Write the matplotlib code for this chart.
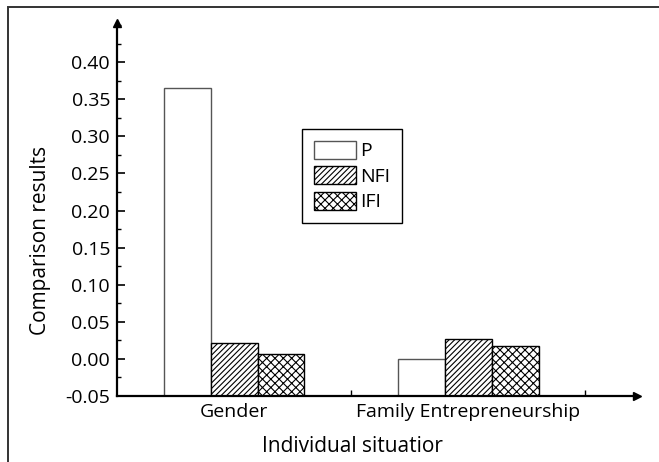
import numpy as np
import matplotlib.pyplot as plt
from matplotlib.patches import Rectangle
from matplotlib.ticker import MultipleLocator

plt.rcParams['font.family'] = ['Open Sans', 'DejaVu Sans']
plt.rcParams['hatch.linewidth'] = 0.8

# --- data ---
categories = ['Gender', 'Family Entrepreneurship']
cat_pos = [1, 3]
series = ['P', 'NFI', 'IFI']
values_p = [0.365, 0.000]
values_nfi = [0.022, 0.027]
values_ifi = [0.007, 0.018]
tick_pos = [1, 2, 3, 4]
tick_labels = ['Gender', '', 'Family Entrepreneurship', '']

W, H = 659, 462
fig = plt.figure(figsize=(W / 100, H / 100), dpi=100)
# axes placed in pixel terms: y-axis at x=117, x-axis at y=396, arrows at x=637 / y=23
ax = fig.add_axes([117 / W, (H - 396) / H, (637 - 117) / W, (396 - 23) / H])

base = -0.05
width = 0.4
styles = [dict(facecolor='white', edgecolor='#555555', hatch=None),
          dict(facecolor='white', edgecolor='black', hatch='//////'),
          dict(facecolor='white', edgecolor='black', hatch='xxxx')]
for k, (name, vals) in enumerate(zip(series, [values_p, values_nfi, values_ifi])):
    x = np.array(cat_pos) + (k - 1) * width
    h = np.array(vals) - base
    ax.bar(x, h, width, bottom=base, label=name, linewidth=1.0, zorder=2, **styles[k])

ax.set_xlim(0, 4.44)
ax.set_ylim(-0.05, 0.4527)
ax.yaxis.set_minor_locator(MultipleLocator(0.025))
yt = np.arange(-0.05, 0.401, 0.05)
ax.set_yticks(yt)
ax.set_yticklabels([f'{v:.2f}' for v in yt])
ax.set_xticks(tick_pos)
ax.set_xticklabels(tick_labels)
ax.tick_params(axis='y', which='major', direction='in', length=6, width=1.2, labelsize=14, pad=5)
ax.tick_params(axis='y', which='minor', direction='in', length=3, width=1.0)
ax.tick_params(axis='x', which='major', direction='in', length=4, width=1.0, labelsize=14, pad=5)

for s in ['top', 'right']:
    ax.spines[s].set_visible(False)
for s in ['left', 'bottom']:
    ax.spines[s].set_linewidth(1.6)
    ax.spines[s].set_zorder(3)
ax.plot(0, 1, '^k', ms=6, transform=ax.transAxes, clip_on=False, zorder=4)
ax.plot(1, 0, '>k', ms=6, transform=ax.transAxes, clip_on=False, zorder=4)

ax.set_ylabel('Comparison results', fontsize=15)
ax.yaxis.set_label_coords(-66 / (637 - 117), (396 - 240) / (396 - 23))
fig.text(352 / W, 1 - 452 / H, 'Individual situatior', fontsize=15, ha='center', va='baseline')

leg = ax.legend(loc='upper left', bbox_to_anchor=(302 / W, 1 - 129 / H), bbox_transform=fig.transFigure,
                fontsize=14, frameon=True, fancybox=False, edgecolor='black', framealpha=1,
                handlelength=2.2, handleheight=1.05, handletextpad=0.2, labelspacing=0.3,
                borderpad=0.6, borderaxespad=0)
leg.get_frame().set_linewidth(1.0)

# outer frame, cut off at right and bottom like the reference
fig.patches.append(Rectangle((8 / W, -0.1), 1.2, 1 - 7 / H + 0.1, transform=fig.transFigure,
                             fill=False, edgecolor='#333333', linewidth=1.4))

fig.savefig('out.png', dpi=100)
